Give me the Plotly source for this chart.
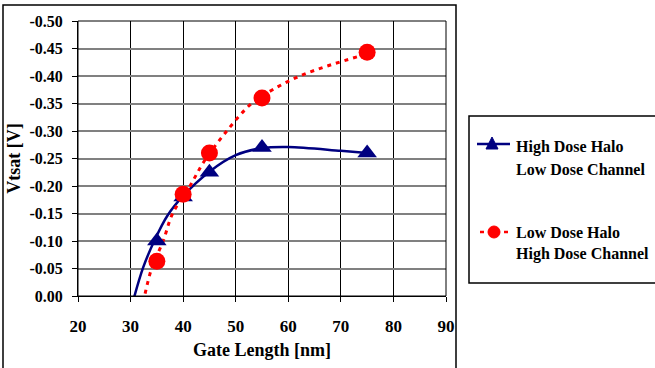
import plotly.graph_objects as go

# Measured data points
gate_length = [35, 40, 45, 55, 75]
hd_halo_vtsat = [-0.100, -0.180, -0.225, -0.270, -0.260]
ld_halo_vtsat = [-0.063, -0.185, -0.260, -0.360, -0.443]

# Trend curves
hd_trend_x = [30.4, 32.4, 34.5, 37.0, 40.0, 45.0, 50.0, 55.0, 60.0, 70.0, 75.0]
hd_trend_y = [0.012, -0.052, -0.10, -0.146, -0.182, -0.226, -0.256, -0.269, -0.271, -0.264, -0.260]
ld_trend_x = [32.4, 34.0, 36.2, 38.0, 41.3, 44.0, 48.3, 53.0, 57.0, 62.2, 68.0, 75.0]
ld_trend_y = [0.012, -0.05, -0.10, -0.15, -0.20, -0.245, -0.30, -0.35, -0.375, -0.40, -0.42, -0.440]

y_ticks = [0.0, -0.05, -0.10, -0.15, -0.20, -0.25, -0.30, -0.35, -0.40, -0.45, -0.50]
y_tick_text = ["0.00", "-0.05", "-0.10", "-0.15", "-0.20", "-0.25", "-0.30", "-0.35", "-0.40", "-0.45", "-0.50"]
x_ticks = [20, 30, 40, 50, 60, 70, 80, 90]

legend_lines = [["High Dose Halo", "Low Dose Channel"], ["Low Dose Halo", "High Dose Channel"]]

BLUE = "#000080"
RED = "#FF0000"
FONT = "Liberation Serif"

fig = go.Figure()

fig.add_trace(go.Scatter(x=hd_trend_x, y=hd_trend_y, mode="lines",
                         line=dict(color=BLUE, width=2.5, shape="spline", smoothing=1),
                         showlegend=False, cliponaxis=False, hoverinfo="skip"))
fig.add_trace(go.Scatter(x=ld_trend_x, y=ld_trend_y, mode="lines",
                         line=dict(color=RED, width=3, shape="spline", smoothing=1, dash="4px,5px"),
                         showlegend=False, cliponaxis=False, hoverinfo="skip"))
fig.add_trace(go.Scatter(x=gate_length, y=hd_halo_vtsat, mode="markers",
                         marker=dict(symbol="triangle-up", size=17, color=BLUE),
                         showlegend=False, cliponaxis=False))
fig.add_trace(go.Scatter(x=gate_length, y=ld_halo_vtsat, mode="markers",
                         marker=dict(symbol="circle", size=17, color=RED),
                         showlegend=False, cliponaxis=False))

L, R, T, B = 78, 446, 21, 296
W, H = 655, 368
pw, ph = R - L, B - T

def px(x):
    return (x - L) / pw

def py(y):
    return (B - y) / ph

shapes = [
    dict(type="rect", xref="paper", yref="paper", x0=0, x1=1, y0=0, y1=1,
         line=dict(color="black", width=1), layer="above"),
    dict(type="rect", xref="paper", yref="paper", x0=px(3), x1=px(456), y0=py(380), y1=py(5),
         line=dict(color="black", width=1.5)),
    dict(type="rect", xref="paper", yref="paper", x0=px(469), x1=px(660), y0=py(283), y1=py(116),
         line=dict(color="black", width=1.5)),
    # legend keys
    dict(type="line", xref="paper", yref="paper", x0=px(477), x1=px(510), y0=py(144), y1=py(144),
         line=dict(color=BLUE, width=2.5)),
    dict(type="path", xref="paper", yref="paper",
         path=f"M {px(486)} {py(149)} L {px(498)} {py(149)} L {px(492)} {py(137)} Z",
         fillcolor=BLUE, line=dict(color=BLUE, width=1)),
    dict(type="line", xref="paper", yref="paper", x0=px(480), x1=px(510), y0=py(232), y1=py(232),
         line=dict(color=RED, width=2.5, dash="4px,4px")),
    dict(type="circle", xref="paper", yref="paper", x0=px(488), x1=px(500), y0=py(238), y1=py(226),
         fillcolor=RED, line=dict(color=RED, width=1)),
]

annotations = []
line_y = [[147, 170], [232, 254]]
for item, ys in zip(legend_lines, line_y):
    for txt, yy in zip(item, ys):
        annotations.append(dict(text=f"<b>{txt}</b>", xref="paper", yref="paper", x=px(514), y=py(yy),
                                xanchor="left", yanchor="middle", showarrow=False,
                                font=dict(family=FONT, size=16, color="black")))

fig.update_layout(
    width=W, height=H,
    margin=dict(l=L, r=W - R, t=T, b=H - B, pad=0),
    paper_bgcolor="white", plot_bgcolor="white",
    font=dict(family=FONT, size=16, color="black"),
    showlegend=False,
    xaxis=dict(range=[20, 90], tickvals=x_ticks, showgrid=True, gridcolor="black", gridwidth=1,
               showline=True, linecolor="black", linewidth=1, ticks="outside", ticklen=5,
               tickcolor="black", zeroline=False, ticklabelstandoff=10,
               tickfont=dict(family=FONT, size=17, color="black", weight="bold"),
               title=dict(text="<b>Gate Length [nm]</b>", font=dict(family=FONT, size=18), standoff=7)),
    yaxis=dict(range=[0, -0.5], tickvals=y_ticks, ticktext=y_tick_text, showgrid=True,
               gridcolor="#808080", gridwidth=1.5, showline=True, linecolor="black", linewidth=1,
               ticks="outside", ticklen=5, tickcolor="black", zeroline=False, ticklabelstandoff=6,
               tickfont=dict(family=FONT, size=16, color="black", weight="bold"),
               title=dict(text="<b>Vtsat [V]</b>", font=dict(family=FONT, size=18), standoff=4)),
    shapes=shapes,
    annotations=annotations,
)

fig.write_html("out.html")
